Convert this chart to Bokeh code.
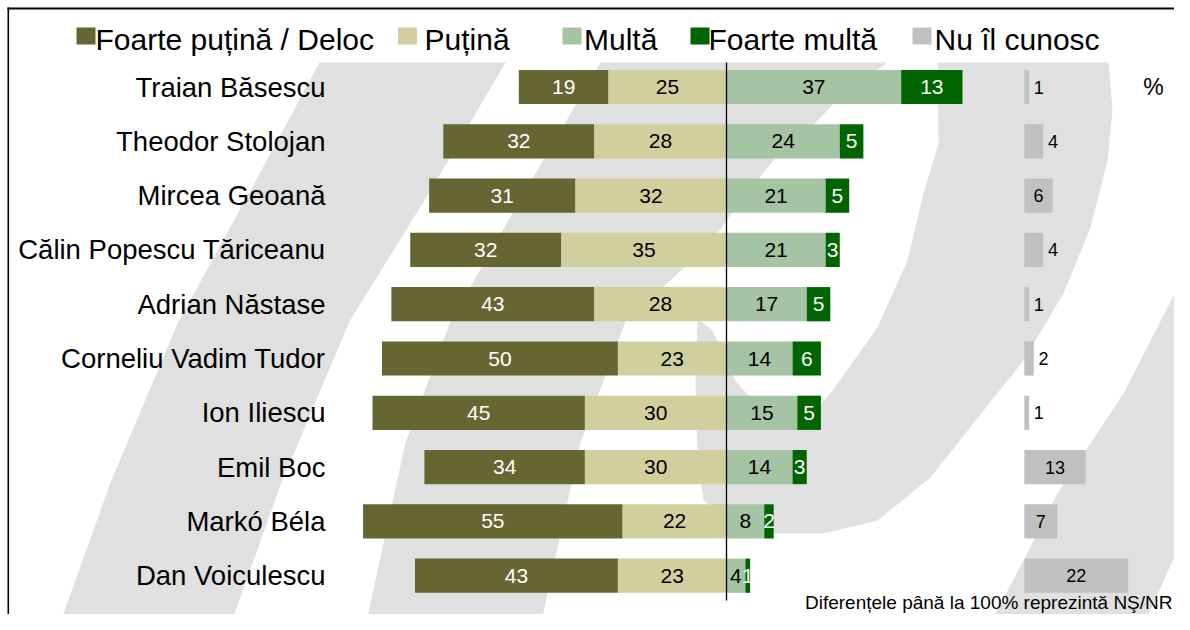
from bokeh.plotting import figure
from bokeh.models import Range1d, ColumnDataSource
from bokeh.core.properties import value
from bokeh.embed import file_html
from bokeh.resources import INLINE

# ---------------- data ----------------
names = ["Traian Băsescu", "Theodor Stolojan", "Mircea Geoană",
         "Călin Popescu Tăriceanu", "Adrian Năstase", "Corneliu Vadim Tudor",
         "Ion Iliescu", "Emil Boc", "Markó Béla", "Dan Voiculescu"]
foarte_putina = [19, 32, 31, 32, 43, 50, 45, 34, 55, 43]   # Foarte puțină / Deloc
putina = [25, 28, 32, 35, 28, 23, 30, 30, 22, 23]          # Puțină
multa = [37, 24, 21, 21, 17, 14, 15, 14, 8, 4]             # Multă
foarte_multa = [13, 5, 5, 3, 5, 6, 5, 3, 2, 1]             # Foarte multă
nu_cunosc = [1, 4, 6, 4, 1, 2, 1, 13, 7, 22]               # Nu îl cunosc

legend_labels = ["Foarte puțină / Deloc", "Puțină", "Multă", "Foarte multă", "Nu îl cunosc"]
note = "Diferențele până la 100% reprezintă NŞ/NR"
unit_label = "%"

# ---------------- style / layout ----------------
C_DARK_OLIVE = "#666633"
C_KHAKI = "#D1CF9E"
C_LIGHT_GREEN = "#A4C4A4"
C_DARK_GREEN = "#006400"
C_GREY = "#C0C0C0"
C_WATERMARK = "#E0E0E0"
FONT = "Liberation Sans"

W, H = 1174, 614
X0, S = 726.0, 4.72        # pixel x of zero, pixels per percentage point
Y0, PITCH = 86.5, 54.3     # pixel y of first row, row pitch
GREY_START = 63.1          # where the "Nu îl cunosc" column starts (data units)
BAR_H = 0.63


def px2x(p):
    return (p - X0) / S


def py2y(p):
    return (p - Y0) / PITCH


p = figure(width=W, height=H,
           x_range=Range1d(px2x(0), px2x(W)),
           y_range=Range1d(py2y(H), py2y(0)),
           output_backend="svg", toolbar_location=None,
           x_axis_location=None, y_axis_location=None,
           min_border=0)
p.grid.visible = False
p.outline_line_color = None
p.background_fill_color = "white"
p.border_fill_color = "white"

# ---------------- decorative watermark (pixel outlines) ----------------
shapes_px = [
    # left stroke
    [(319, 62), (505, 62), (430, 190), (349, 321), (281, 482), (228, 630),
     (57, 630), (110, 482), (178, 321), (250, 190)],
    # middle stroke
    [(600, 62), (887, 62), (843, 93), (817, 120), (773, 160), (740, 200),
     (710, 243), (625, 321), (580, 442), (539, 630), (364, 630), (405, 442),
     (450, 321), (525, 190)],
    # crescent
    [(937, 62), (1108, 62), (1112, 110), (1107, 160), (1090, 227), (1063, 293),
     (1023, 360), (983, 410), (930, 477), (877, 520), (823, 533), (773, 533),
     (730, 523), (703, 500), (697, 460), (695, 380), (697, 318), (712, 330),
     (735, 380), (765, 415), (800, 427), (830, 393), (877, 327), (907, 260),
     (923, 193), (938, 143)],
    # right stroke
    [(1190, 262), (1190, 520), (1141, 630), (986, 630), (1023, 560), (1057, 493),
     (1123, 393)],
]
p.patches(xs=[[px2x(a) for a, b in s] for s in shapes_px],
          ys=[[py2y(b) for a, b in s] for s in shapes_px],
          fill_color=C_WATERMARK, line_color=None)

# ---------------- bars ----------------
n = len(names)
rows = list(range(n))
src = ColumnDataSource(dict(
    y=rows,
    fp_l=[-(a + b) for a, b in zip(foarte_putina, putina)],
    fp_r=[-b for b in putina],
    p_l=[-b for b in putina],
    p_r=[0] * n,
    m_l=[0] * n,
    m_r=multa,
    fm_l=multa,
    fm_r=[c + d for c, d in zip(multa, foarte_multa)],
    g_l=[GREY_START] * n,
    g_r=[GREY_START + e for e in nu_cunosc],
))
p.hbar(y="y", left="fp_l", right="fp_r", height=BAR_H, source=src,
       fill_color=C_DARK_OLIVE, line_color=None)
p.hbar(y="y", left="p_l", right="p_r", height=BAR_H, source=src,
       fill_color=C_KHAKI, line_color=None)
p.hbar(y="y", left="m_l", right="m_r", height=BAR_H, source=src,
       fill_color=C_LIGHT_GREEN, line_color=None)
p.hbar(y="y", left="fm_l", right="fm_r", height=BAR_H, source=src,
       fill_color=C_DARK_GREEN, line_color=None)
p.hbar(y="y", left="g_l", right="g_r", height=BAR_H, source=src,
       fill_color=C_GREY, line_color=None)

# zero line
p.segment(x0=[0], x1=[0], y0=[py2y(62)], y1=[py2y(600)], line_color="black", line_width=1.3)

# ---------------- value labels ----------------
def add_labels(xs, vals, color, size, align="center"):
    p.text(x=xs, y=rows, text=[str(v) for v in vals],
           text_font=value(FONT), text_font_size=size, text_color=color,
           text_align=align, text_baseline="middle")


add_labels([-(b + a / 2) for a, b in zip(foarte_putina, putina)], foarte_putina, "white", "21px")
add_labels([-b / 2 for b in putina], putina, "black", "21px")
add_labels([c / 2 for c in multa], multa, "black", "21px")
add_labels([c + d / 2 for c, d in zip(multa, foarte_multa)], foarte_multa, "white", "21px")

g_in_x, g_in_y, g_in_t, g_out_x, g_out_y, g_out_t = [], [], [], [], [], []
for i, e in enumerate(nu_cunosc):
    if e >= 6:
        g_in_x.append(GREY_START + e / 2); g_in_y.append(i); g_in_t.append(str(e))
    else:
        g_out_x.append(GREY_START + e + 1.0); g_out_y.append(i); g_out_t.append(str(e))
p.text(x=g_in_x, y=g_in_y, text=g_in_t, text_font=value(FONT), text_font_size="18px",
       text_color="black", text_align="center", text_baseline="middle")
p.text(x=g_out_x, y=g_out_y, text=g_out_t, text_font=value(FONT), text_font_size="18px",
       text_color="black", text_align="left", text_baseline="middle")

# category names
p.text(x=[px2x(325)] * n, y=rows, text=names, text_font=value(FONT),
       text_font_size="27.5px", text_color="black", text_align="right",
       text_baseline="middle")

# unit and note
p.text(x=[px2x(1153)], y=[0], text=[unit_label], text_font=value(FONT),
       text_font_size="23px", text_color="black", text_align="center", text_baseline="middle")
p.text(x=[px2x(1172)], y=[py2y(602)], text=[note], text_font=value(FONT),
       text_font_size="19px", text_color="black", text_align="right",
       text_baseline="middle")

# ---------------- legend (top row) ----------------
legend_colors = [C_DARK_OLIVE, C_KHAKI, C_LIGHT_GREEN, C_DARK_GREEN, C_GREY]
legend_square_px = [85.5, 407, 571.5, 699.5, 921.5]
legend_text_px = [95, 424, 583.5, 708, 934]
p.rect(x=[px2x(v) for v in legend_square_px], y=[py2y(35.5)] * 5, width=19, height=17,
       width_units="screen", height_units="screen", fill_color=legend_colors, line_color=None)
p.text(x=[px2x(v) for v in legend_text_px], y=[py2y(38.5)] * 5, text=legend_labels,
       text_font=value(FONT), text_font_size="30px", text_color="black",
       text_align="left", text_baseline="middle")

# ---------------- frame lines (top / left) ----------------
p.segment(x0=[px2x(7)], x1=[px2x(W)], y0=[py2y(8)], y1=[py2y(8)],
          line_color="black", line_width=1.8)
p.segment(x0=[px2x(7.8)], x1=[px2x(7.8)], y0=[py2y(7)], y1=[py2y(H)],
          line_color="black", line_width=1.6)

open("out.html", "w").write(file_html(p, INLINE))
